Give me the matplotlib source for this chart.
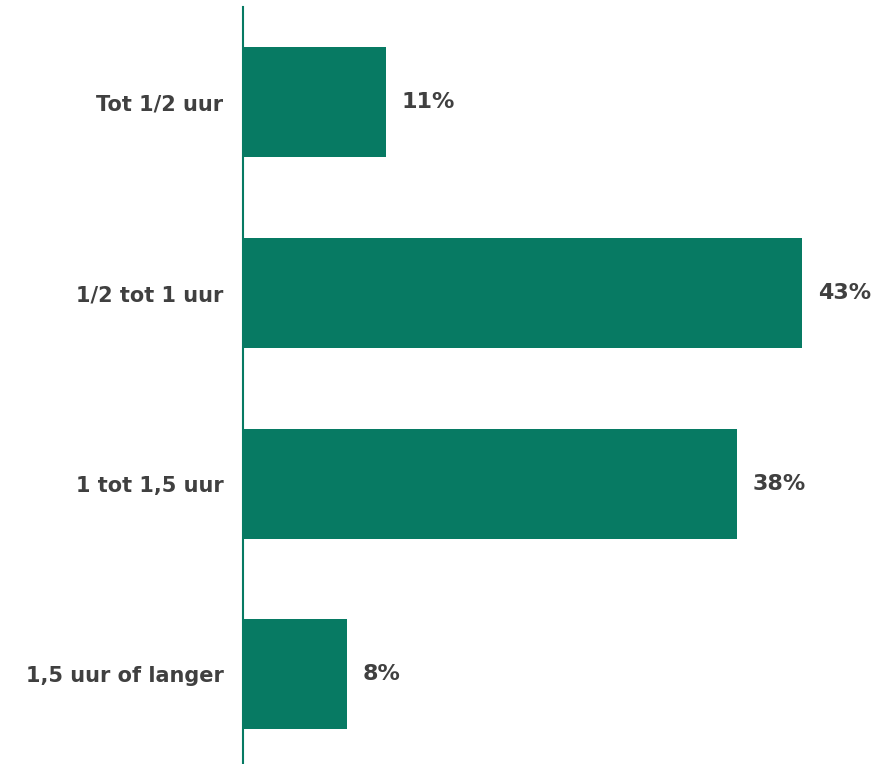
"""
Reistijd per categorie, horizontale staafgrafiek.
"""
import matplotlib
matplotlib.use('Agg')
import matplotlib.pyplot as plt

categories = ['Tot 1/2 uur', '1/2 tot 1 uur', '1 tot 1,5 uur', '1,5 uur of langer']
values = [11, 43, 38, 8]

bar_color = '#077A63'
text_color = '#404040'

fig = plt.figure(figsize=(8.93, 7.64), dpi=100)
# axes from the axis line (x=243px) to the right edge
ax = fig.add_axes([243 / 893, 0.0, 650 / 893, 757 / 764])

pos = list(range(len(categories)))
ax.barh(pos, values, height=0.577, color=bar_color)

ax.set_xlim(0, 50)
ax.set_ylim(3.47, -0.5)

for y, v in zip(pos, values):
    ax.text(v + 1.2, y, '%d%%' % v, va='center', ha='left',
            fontsize=16, fontweight='bold', color=text_color)

ax.set_yticks(pos)
ax.set_yticklabels(categories, fontsize=15, fontweight='bold', color=text_color)
ax.tick_params(axis='y', length=0, pad=14)
ax.set_xticks([])

for side in ['top', 'right', 'bottom']:
    ax.spines[side].set_visible(False)
ax.spines['left'].set_color(bar_color)
ax.spines['left'].set_linewidth(1.5)

fig.savefig('out.png', dpi=100)
